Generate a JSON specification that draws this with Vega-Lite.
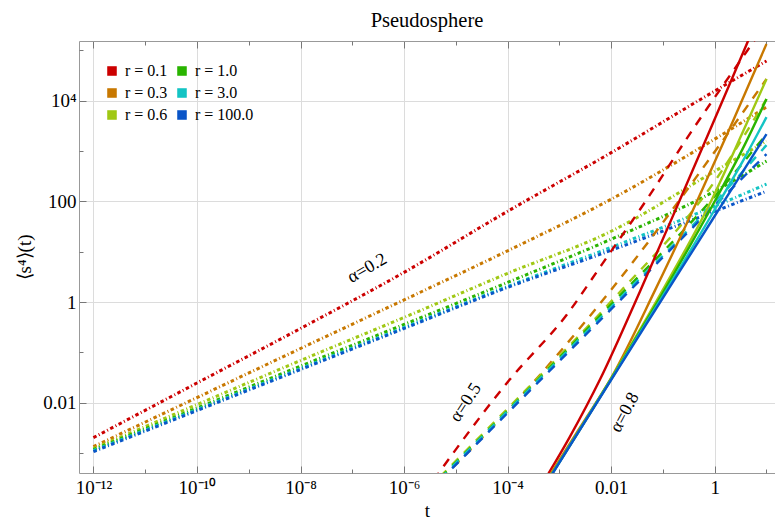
{
  "$schema": "https://vega.github.io/schema/vega-lite/v6.json",
  "autosize": "none",
  "width": 696,
  "height": 432,
  "padding": {"left": 79, "top": 41, "right": 0, "bottom": 49},
  "background": "white",
  "title": {"text": "Pseudosphere", "font": "Liberation Serif", "fontSize": 20.5, "fontWeight": "normal", "color": "#000", "anchor": "middle", "offset": 9},
  "datasets": {
    "curves": [
      {"a": 0.2, "r": "r = 0.1", "t": 1e-12, "v": 0.00204},
      {"a": 0.2, "r": "r = 0.1", "t": 1e-10, "v": 0.0248},
      {"a": 0.2, "r": "r = 0.1", "t": 1e-8, "v": 0.300},
      {"a": 0.2, "r": "r = 0.1", "t": 1e-6, "v": 3.89},
      {"a": 0.2, "r": "r = 0.1", "t": 1e-4, "v": 63.5},
      {"a": 0.2, "r": "r = 0.1", "t": 0.01, "v": 925},
      {"a": 0.2, "r": "r = 0.1", "t": 1, "v": 15450},
      {"a": 0.2, "r": "r = 0.1", "t": 10, "v": 60950},
      {"a": 0.2, "r": "r = 0.3", "t": 1e-12, "v": 0.001352},
      {"a": 0.2, "r": "r = 0.3", "t": 1e-10, "v": 0.01274},
      {"a": 0.2, "r": "r = 0.3", "t": 1e-8, "v": 0.1201},
      {"a": 0.2, "r": "r = 0.3", "t": 1e-6, "v": 1.106},
      {"a": 0.2, "r": "r = 0.3", "t": 1e-4, "v": 10.42},
      {"a": 0.2, "r": "r = 0.3", "t": 0.01, "v": 110.2},
      {"a": 0.2, "r": "r = 0.3", "t": 1, "v": 1718},
      {"a": 0.2, "r": "r = 0.3", "t": 10, "v": 7430},
      {"a": 0.2, "r": "r = 0.6", "t": 1e-12, "v": 0.001234},
      {"a": 0.2, "r": "r = 0.6", "t": 1e-10, "v": 0.00925},
      {"a": 0.2, "r": "r = 0.6", "t": 1e-8, "v": 0.0693},
      {"a": 0.2, "r": "r = 0.6", "t": 1e-6, "v": 0.4965},
      {"a": 0.2, "r": "r = 0.6", "t": 1e-4, "v": 3.72},
      {"a": 0.2, "r": "r = 0.6", "t": 0.01, "v": 25.45},
      {"a": 0.2, "r": "r = 0.6", "t": 1, "v": 396},
      {"a": 0.2, "r": "r = 0.6", "t": 10, "v": 1566},
      {"a": 0.2, "r": "r = 1.0", "t": 1e-12, "v": 0.00118},
      {"a": 0.2, "r": "r = 1.0", "t": 1e-10, "v": 0.00788},
      {"a": 0.2, "r": "r = 1.0", "t": 1e-8, "v": 0.0537},
      {"a": 0.2, "r": "r = 1.0", "t": 1e-6, "v": 0.360},
      {"a": 0.2, "r": "r = 1.0", "t": 1e-4, "v": 2.46},
      {"a": 0.2, "r": "r = 1.0", "t": 0.01, "v": 17.7},
      {"a": 0.2, "r": "r = 1.0", "t": 1, "v": 158.8},
      {"a": 0.2, "r": "r = 1.0", "t": 10, "v": 627},
      {"a": 0.2, "r": "r = 3.0", "t": 1e-12, "v": 0.001127},
      {"a": 0.2, "r": "r = 3.0", "t": 1e-10, "v": 0.00736},
      {"a": 0.2, "r": "r = 3.0", "t": 1e-8, "v": 0.0481},
      {"a": 0.2, "r": "r = 3.0", "t": 1e-6, "v": 0.314},
      {"a": 0.2, "r": "r = 3.0", "t": 1e-4, "v": 2.05},
      {"a": 0.2, "r": "r = 3.0", "t": 0.01, "v": 12.2},
      {"a": 0.2, "r": "r = 3.0", "t": 1, "v": 80.0},
      {"a": 0.2, "r": "r = 3.0", "t": 10, "v": 218.8},
      {"a": 0.2, "r": "r = 100.0", "t": 1e-12, "v": 0.001076},
      {"a": 0.2, "r": "r = 100.0", "t": 1e-10, "v": 0.00703},
      {"a": 0.2, "r": "r = 100.0", "t": 1e-8, "v": 0.0459},
      {"a": 0.2, "r": "r = 100.0", "t": 1e-6, "v": 0.300},
      {"a": 0.2, "r": "r = 100.0", "t": 1e-4, "v": 1.96},
      {"a": 0.2, "r": "r = 100.0", "t": 0.01, "v": 10.66},
      {"a": 0.2, "r": "r = 100.0", "t": 1, "v": 63.5},
      {"a": 0.2, "r": "r = 100.0", "t": 10, "v": 158.8},

      {"a": 0.5, "r": "r = 0.1", "t": 1e-6, "v": 4.37e-5},
      {"a": 0.5, "r": "r = 0.1", "t": 1.1e-4, "v": 0.029},
      {"a": 0.5, "r": "r = 0.1", "t": 1.4e-3, "v": 0.569},
      {"a": 0.5, "r": "r = 0.1", "t": 6.64e-3, "v": 5.61},
      {"a": 0.5, "r": "r = 0.1", "t": 0.0492, "v": 110.2},
      {"a": 0.5, "r": "r = 0.1", "t": 0.381, "v": 2710},
      {"a": 0.5, "r": "r = 0.1", "t": 4.21, "v": 96400},
      {"a": 0.5, "r": "r = 0.1", "t": 10, "v": 347500},
      {"a": 0.5, "r": "r = 0.3", "t": 1e-6, "v": 6.07e-5},
      {"a": 0.5, "r": "r = 0.3", "t": 1e-4, "v": 0.00693},
      {"a": 0.5, "r": "r = 0.3", "t": 0.01, "v": 1.756},
      {"a": 0.5, "r": "r = 0.3", "t": 1, "v": 964},
      {"a": 0.5, "r": "r = 0.3", "t": 10, "v": 26750},
      {"a": 0.5, "r": "r = 0.6", "t": 1e-6, "v": 6.59e-5},
      {"a": 0.5, "r": "r = 0.6", "t": 1e-4, "v": 0.0077},
      {"a": 0.5, "r": "r = 0.6", "t": 0.01, "v": 1.032},
      {"a": 0.5, "r": "r = 0.6", "t": 1, "v": 250},
      {"a": 0.5, "r": "r = 0.6", "t": 10, "v": 10720},
      {"a": 0.5, "r": "r = 1.0", "t": 1e-6, "v": 6.3e-5},
      {"a": 0.5, "r": "r = 1.0", "t": 1e-4, "v": 0.00703},
      {"a": 0.5, "r": "r = 1.0", "t": 0.01, "v": 0.9},
      {"a": 0.5, "r": "r = 1.0", "t": 1, "v": 126.3},
      {"a": 0.5, "r": "r = 1.0", "t": 10, "v": 2158},
      {"a": 0.5, "r": "r = 3.0", "t": 1e-6, "v": 6.01e-5},
      {"a": 0.5, "r": "r = 3.0", "t": 1e-4, "v": 0.00687},
      {"a": 0.5, "r": "r = 3.0", "t": 0.01, "v": 0.803},
      {"a": 0.5, "r": "r = 3.0", "t": 1, "v": 95.9},
      {"a": 0.5, "r": "r = 3.0", "t": 10, "v": 1303},
      {"a": 0.5, "r": "r = 100.0", "t": 1e-6, "v": 5.55e-5},
      {"a": 0.5, "r": "r = 100.0", "t": 1e-4, "v": 0.00632},
      {"a": 0.5, "r": "r = 100.0", "t": 0.01, "v": 0.723},
      {"a": 0.5, "r": "r = 100.0", "t": 1, "v": 82.6},
      {"a": 0.5, "r": "r = 100.0", "t": 10, "v": 863},

      {"a": 0.8, "r": "r = 0.1", "t": 4.21e-4, "v": 2.07e-4},
      {"a": 0.8, "r": "r = 0.1", "t": 1.6e-3, "v": 2.14e-3},
      {"a": 0.8, "r": "r = 0.1", "t": 6.08e-3, "v": 0.02904},
      {"a": 0.8, "r": "r = 0.1", "t": 0.036, "v": 1.632},
      {"a": 0.8, "r": "r = 0.1", "t": 0.1954, "v": 87.5},
      {"a": 0.8, "r": "r = 0.1", "t": 0.927, "v": 3573},
      {"a": 0.8, "r": "r = 0.1", "t": 4.401, "v": 152400},
      {"a": 0.8, "r": "r = 0.1", "t": 10, "v": 1.09e6},
      {"a": 0.8, "r": "r = 0.3", "t": 4.21e-4, "v": 1.8e-4},
      {"a": 0.8, "r": "r = 0.3", "t": 2.49e-3, "v": 3.23e-3},
      {"a": 0.8, "r": "r = 0.3", "t": 0.01036, "v": 0.0333},
      {"a": 0.8, "r": "r = 0.3", "t": 0.0702, "v": 1.708},
      {"a": 0.8, "r": "r = 0.3", "t": 0.455, "v": 100.5},
      {"a": 0.8, "r": "r = 0.3", "t": 2.258, "v": 3908},
      {"a": 0.8, "r": "r = 0.3", "t": 10, "v": 132800},
      {"a": 0.8, "r": "r = 0.6", "t": 5.26e-4, "v": 2.38e-4},
      {"a": 0.8, "r": "r = 0.6", "t": 0.01036, "v": 0.0326},
      {"a": 0.8, "r": "r = 0.6", "t": 0.0959, "v": 1.632},
      {"a": 0.8, "r": "r = 0.6", "t": 0.8867, "v": 110.2},
      {"a": 0.8, "r": "r = 0.6", "t": 3.851, "v": 2972},
      {"a": 0.8, "r": "r = 0.6", "t": 10, "v": 26750},
      {"a": 0.8, "r": "r = 1.0", "t": 5.26e-4, "v": 2.34e-4},
      {"a": 0.8, "r": "r = 1.0", "t": 0.01036, "v": 0.0318},
      {"a": 0.8, "r": "r = 1.0", "t": 0.0959, "v": 1.423},
      {"a": 0.8, "r": "r = 1.0", "t": 0.8867, "v": 79.9},
      {"a": 0.8, "r": "r = 1.0", "t": 3.851, "v": 1365},
      {"a": 0.8, "r": "r = 1.0", "t": 10, "v": 10720},
      {"a": 0.8, "r": "r = 3.0", "t": 5.26e-4, "v": 2.3e-4},
      {"a": 0.8, "r": "r = 3.0", "t": 0.01036, "v": 0.0311},
      {"a": 0.8, "r": "r = 3.0", "t": 0.0959, "v": 1.24},
      {"a": 0.8, "r": "r = 3.0", "t": 0.8867, "v": 55.4},
      {"a": 0.8, "r": "r = 3.0", "t": 3.851, "v": 753},
      {"a": 0.8, "r": "r = 3.0", "t": 10, "v": 4700},
      {"a": 0.8, "r": "r = 100.0", "t": 5.26e-4, "v": 2.27e-4},
      {"a": 0.8, "r": "r = 100.0", "t": 0.01036, "v": 0.0304},
      {"a": 0.8, "r": "r = 100.0", "t": 0.0959, "v": 1.132},
      {"a": 0.8, "r": "r = 100.0", "t": 0.8867, "v": 42.1},
      {"a": 0.8, "r": "r = 100.0", "t": 3.851, "v": 455},
      {"a": 0.8, "r": "r = 100.0", "t": 10, "v": 2158}
    ],
    "labels": [
      {"lab": "α=0.2", "t": 1.954e-7, "v": 4.677, "a": 0.2},
      {"lab": "α=0.5", "t": 1.563e-5, "v": 0.01014, "a": 0.5},
      {"lab": "α=0.8", "t": 0.01849, "v": 0.00641, "a": 0.8}
    ]
  },
  "layer": [
    {
      "data": {"name": "curves"},
      "transform": [{"filter": "datum.a == 0.2"}],
      "mark": {"type": "line", "strokeWidth": 3, "strokeDash": [3.5, 2.5, 1, 2.5], "clip": true, "interpolate": "monotone"},
      "encoding": {
        "x": {"field": "t", "type": "quantitative", "scale": {"type": "log", "domain": [5.27e-13, 14.6], "nice": false, "zero": false},
          "axis": {"orient": "bottom", "values": [1e-12, 1e-10, 1e-8, 1e-6, 1e-4, 0.01, 1], "grid": true, "tickSize": -7, "labelPadding": 12, "labelFlush": false, "labelOverlap": false, "title": "t", "titlePadding": 4,
            "labelExpr": "datum.value < 1e-11 ? '10⁻¹²' : datum.value < 1e-9 ? '10⁻¹⁰' : datum.value < 1e-7 ? '10⁻⁸' : datum.value < 1e-5 ? '10⁻⁶' : datum.value < 1e-3 ? '10⁻⁴' : datum.value < 0.1 ? '0.01' : '1'"}},
        "y": {"field": "v", "type": "quantitative", "scale": {"type": "log", "domain": [4.06e-4, 1.52e5], "nice": false, "zero": false},
          "axis": {"orient": "left", "values": [0.01, 1, 100, 10000], "grid": true, "tickSize": -7, "labelPadding": 10, "labelOverlap": false, "title": "⟨s⁴⟩(t)", "titlePadding": 8,
            "labelExpr": "datum.value < 0.1 ? '0.01' : datum.value < 10 ? '1' : datum.value < 1000 ? '100' : '10⁴'"}},
        "color": {"field": "r", "type": "nominal",
          "scale": {"domain": ["r = 0.1", "r = 0.3", "r = 0.6", "r = 1.0", "r = 3.0", "r = 100.0"], "range": ["#cc0000", "#c87800", "#a0c814", "#2ab400", "#14c4c4", "#0a55c8"]},
          "legend": {"orient": "none", "legendX": 25, "legendY": 22, "columns": 2, "title": null, "symbolType": "square", "symbolSize": 80, "labelFont": "Liberation Serif", "labelFontSize": 16, "labelColor": "#000", "columnPadding": 6, "rowPadding": 6, "labelOffset": 5, "padding": 0,
            "encode": {"symbols": {"update": {"fill": {"scale": "color", "field": "value"}, "stroke": {"value": "#444"}, "strokeWidth": {"value": 0.6}, "strokeDash": {"value": []}, "opacity": {"value": 1}}}}}}
      }
    },
    {
      "data": {"name": "curves"},
      "transform": [{"filter": "datum.a == 0.5"}],
      "mark": {"type": "line", "strokeWidth": 2.4, "strokeDash": [9, 8], "clip": true, "interpolate": "monotone"},
      "encoding": {
        "x": {"field": "t", "type": "quantitative", "scale": {"type": "log", "domain": [5.27e-13, 14.6], "nice": false, "zero": false},
          "axis": {"orient": "bottom", "values": [1e-11, 1e-9, 1e-7, 1e-5, 1e-3, 0.1, 10], "grid": false, "domain": false, "labels": false, "tickSize": -4, "title": null}},
        "y": {"field": "v", "type": "quantitative", "scale": {"type": "log", "domain": [4.06e-4, 1.52e5], "nice": false, "zero": false},
          "axis": {"orient": "left", "values": [0.001, 0.1, 10, 1000, 100000], "grid": false, "domain": false, "labels": false, "tickSize": -4, "title": null}},
        "color": {"field": "r", "type": "nominal"}
      }
    },
    {
      "data": {"name": "curves"},
      "transform": [{"filter": "datum.a == 0.8"}],
      "mark": {"type": "line", "strokeWidth": 2.4, "clip": true, "interpolate": "monotone"},
      "encoding": {
        "x": {"field": "t", "type": "quantitative", "scale": {"type": "log", "domain": [5.27e-13, 14.6], "nice": false, "zero": false},
          "axis": {"orient": "top", "values": [1e-12, 1e-10, 1e-8, 1e-6, 1e-4, 0.01, 1], "grid": false, "domain": true, "labels": false, "tickSize": -7, "title": null}},
        "y": {"field": "v", "type": "quantitative", "scale": {"type": "log", "domain": [4.06e-4, 1.52e5], "nice": false, "zero": false}, "axis": null},
        "color": {"field": "r", "type": "nominal"}
      }
    },
    {
      "data": {"name": "labels"},
      "transform": [{"filter": "datum.a == 0.2"}],
      "mark": {"type": "text", "font": "Liberation Serif", "fontSize": 18, "angle": -30, "align": "center", "baseline": "middle", "color": "#000"},
      "encoding": {
        "x": {"field": "t", "type": "quantitative", "scale": {"type": "log", "domain": [5.27e-13, 14.6], "nice": false, "zero": false},
          "axis": {"orient": "top", "values": [1e-11, 1e-9, 1e-7, 1e-5, 1e-3, 0.1, 10], "grid": false, "domain": false, "labels": false, "tickSize": -4, "title": null}},
        "y": {"field": "v", "type": "quantitative", "scale": {"type": "log", "domain": [4.06e-4, 1.52e5], "nice": false, "zero": false}, "axis": null},
        "text": {"field": "lab"}
      }
    },
    {
      "data": {"name": "labels"},
      "transform": [{"filter": "datum.a == 0.5"}],
      "mark": {"type": "text", "font": "Liberation Serif", "fontSize": 18, "angle": -57, "align": "center", "baseline": "middle", "color": "#000"},
      "encoding": {
        "x": {"field": "t", "type": "quantitative", "scale": {"type": "log", "domain": [5.27e-13, 14.6], "nice": false, "zero": false}, "axis": null},
        "y": {"field": "v", "type": "quantitative", "scale": {"type": "log", "domain": [4.06e-4, 1.52e5], "nice": false, "zero": false}, "axis": null},
        "text": {"field": "lab"}
      }
    },
    {
      "data": {"name": "labels"},
      "transform": [{"filter": "datum.a == 0.8"}],
      "mark": {"type": "text", "font": "Liberation Serif", "fontSize": 18, "angle": -62, "align": "center", "baseline": "middle", "color": "#000"},
      "encoding": {
        "x": {"field": "t", "type": "quantitative", "scale": {"type": "log", "domain": [5.27e-13, 14.6], "nice": false, "zero": false}, "axis": null},
        "y": {"field": "v", "type": "quantitative", "scale": {"type": "log", "domain": [4.06e-4, 1.52e5], "nice": false, "zero": false}, "axis": null},
        "text": {"field": "lab"}
      }
    }
  ],
  "resolve": {"axis": {"x": "independent", "y": "independent"}},
  "config": {
    "view": {"stroke": null},
    "axis": {"labelFont": "Liberation Serif", "labelFontSize": 19, "labelColor": "#000", "titleFont": "Liberation Serif", "titleFontSize": 19, "titleFontWeight": "normal", "titleColor": "#000", "domainColor": "#999", "tickColor": "#777", "gridColor": "#dcdcdc", "gridWidth": 1}
  }
}
